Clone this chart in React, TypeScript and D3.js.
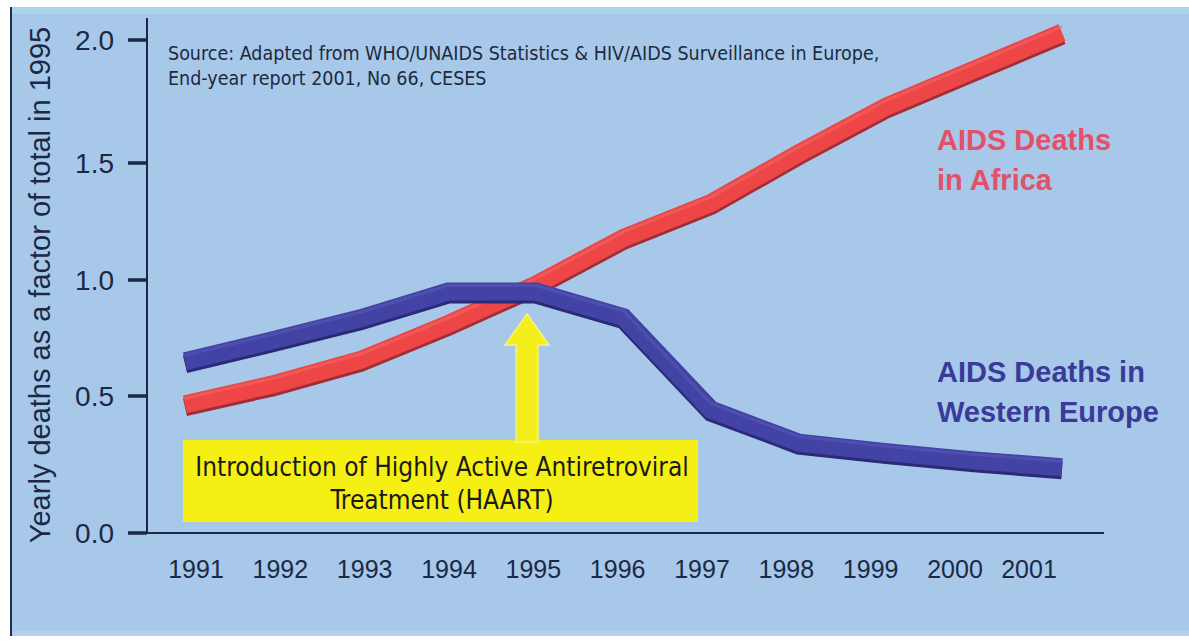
import React from "react";
import * as d3 from "d3";

const YEARS = [1991, 1992, 1993, 1994, 1995, 1996, 1997, 1998, 1999, 2000, 2001];
const AFRICA = [0.47, 0.55, 0.655, 0.81, 0.98, 1.18, 1.33, 1.54, 1.73, 1.88, 2.03];
const W_EUROPE = [0.65, 0.74, 0.835, 0.95, 0.95, 0.84, 0.45, 0.33, 0.295, 0.265, 0.24];
const Y_TICKS = [0, 0.5, 1.0, 1.5, 2.0];
const HAART_YEAR = 1994.9;

const Y_TITLE = "Yearly deaths as a factor of total in 1995";
const SOURCE_LINES = [
  "Source:  Adapted from WHO/UNAIDS Statistics & HIV/AIDS Surveillance  in Europe,",
  "End-year report 2001, No 66, CESES",
];
const HAART_LINES = ["Introduction of Highly Active Antiretroviral", "Treatment (HAART)"];
const AFRICA_LABEL = ["AIDS Deaths", "in Africa"];
const EUROPE_LABEL = ["AIDS Deaths in", "Western Europe"];

const W = 1189;
const H = 643;
const NAVY = "#1b2846";
const SANS = "'Liberation Sans', Arial, sans-serif";
const TAHOMA = "'DejaVu Sans Condensed', 'DejaVu Sans', sans-serif";

export default function App() {
  const y = d3.scaleLinear().domain(Y_TICKS).range([533, 396, 280, 163, 40]);
  const xLine = d3.scaleLinear().domain([1991, 2001]).range([185, 1062]);
  const xLabel = d3.scaleLinear().domain([1991, 2000, 2001]).range([196, 955, 1029]);
  const line = d3
    .line<number>()
    .x((_, i) => xLine(YEARS[i]))
    .y((d) => y(d));
  const fmt = d3.format(".1f");

  const arrowX = xLine(HAART_YEAR);
  const arrowTop = 314;
  const headBase = 345;
  const boxTop = 440;
  const arrowPath = `M${arrowX},${arrowTop} L${arrowX + 22},${headBase} L${arrowX + 11},${headBase} L${arrowX + 11},${boxTop + 2} L${arrowX - 11},${boxTop + 2} L${arrowX - 11},${headBase} L${arrowX - 22},${headBase} Z`;

  const series = [
    { data: AFRICA, shadow: "#a02e36", main: "#ee4646", hi: "#f46c6c" },
    { data: W_EUROPE, shadow: "#2a2a76", main: "#4343a5", hi: "#5c5cb9" },
  ];

  return (
    <svg
      width={W}
      height={H}
      style={{ position: "absolute", left: 0, top: 0, display: "block" }}
    >
      <rect x={0} y={0} width={W} height={H} fill="#ffffff" />
      <rect x={10} y={7} width={W - 10} height={629} fill="#a8c8e9" />
      <rect x={10} y={7} width={W - 10} height={7} fill="#a9d6ec" />
      <rect x={10} y={631} width={W - 10} height={5} fill="#b4d0ec" />
      <line x1={11} x2={11} y1={7} y2={636} stroke="#1f2c4c" strokeWidth={2} />

      {/* Axes */}
      <line x1={147} x2={147} y1={18} y2={y(0)} stroke={NAVY} strokeWidth={2} />
      <line x1={147} x2={1104} y1={y(0)} y2={y(0)} stroke={NAVY} strokeWidth={2} />
      {Y_TICKS.map((t) => (
        <g key={t}>
          <line x1={128} x2={147} y1={y(t)} y2={y(t)} stroke={NAVY} strokeWidth={3.5} />
          <text
            x={114}
            y={y(t) + 10}
            textAnchor="end"
            fontFamily={SANS}
            fontSize={28}
            fill={NAVY}
          >
            {fmt(t)}
          </text>
        </g>
      ))}
      {YEARS.map((yr) => (
        <text
          key={yr}
          x={xLabel(yr)}
          y={578}
          textAnchor="middle"
          fontFamily={SANS}
          fontSize={25}
          fill={NAVY}
        >
          {yr}
        </text>
      ))}
      <text
        transform={`translate(50,285) rotate(-90)`}
        textAnchor="middle"
        fontFamily={SANS}
        fontSize={29}
        fill={NAVY}
      >
        {Y_TITLE}
      </text>

      {/* Source */}
      {SOURCE_LINES.map((s, i) => (
        <text
          key={i}
          x={168}
          y={60 + i * 25}
          fontFamily={TAHOMA}
          fontSize={19.5}
          fill="#1d2a40"
        >
          {s}
        </text>
      ))}

      {/* HAART box and arrow */}
      <rect x={183} y={boxTop} width={515} height={82} fill="#f5ef14" />
      <path d={arrowPath} fill="#f3ee1c" stroke="#f7f37a" strokeWidth={1.5} />
      {HAART_LINES.map((s, i) => (
        <text
          key={i}
          x={442}
          y={476 + i * 33}
          textAnchor="middle"
          fontFamily={TAHOMA}
          fontSize={26}
          fill="#1a1a1a"
        >
          {s}
        </text>
      ))}

      {/* Lines */}
      {series.map((s, k) => (
        <g key={k}>
          <path
            d={line(s.data) || ""}
            transform="translate(0,3)"
            fill="none"
            stroke={s.shadow}
            strokeWidth={18}
            strokeLinejoin="miter"
          />
          <path
            d={line(s.data) || ""}
            fill="none"
            stroke={s.main}
            strokeWidth={18}
            strokeLinejoin="miter"
          />
          <path
            d={line(s.data) || ""}
            transform="translate(0,-6)"
            fill="none"
            stroke={s.hi}
            strokeWidth={3}
            strokeLinejoin="miter"
            opacity={0.5}
          />
        </g>
      ))}

      {/* Series labels */}
      {AFRICA_LABEL.map((s, i) => (
        <text
          key={i}
          x={937}
          y={150 + i * 40}
          fontFamily={SANS}
          fontWeight="bold"
          fontSize={29}
          fill="#e2506a"
        >
          {s}
        </text>
      ))}
      {EUROPE_LABEL.map((s, i) => (
        <text
          key={i}
          x={937}
          y={382 + i * 40}
          fontFamily={SANS}
          fontWeight="bold"
          fontSize={29}
          fill="#3a3a9a"
        >
          {s}
        </text>
      ))}
    </svg>
  );
}
